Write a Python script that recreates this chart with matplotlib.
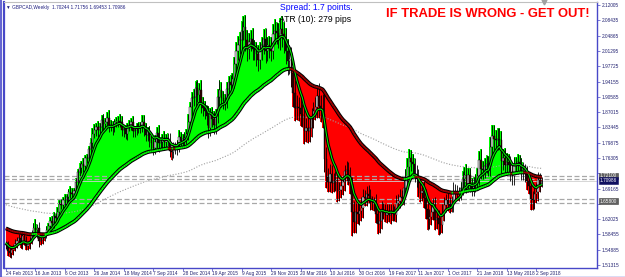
import datetime as dt
import numpy as np
import matplotlib
matplotlib.use("Agg")
import matplotlib.pyplot as plt
from matplotlib.collections import LineCollection
from matplotlib.lines import Line2D
import matplotlib.transforms as mtransforms

# ---------------- data (GBPCAD weekly) ----------------
start_date = dt.date(2013, 2, 24)
first_open = 1.5600

closes = [
    1.5620, 1.5450, 1.5400, 1.5480, 1.5530, 1.5620, 1.5700, 1.5760, 1.5640, 1.5800, 1.5680, 1.5570, 1.5620, 1.5700, 1.5830, 1.6000,
    1.5950, 1.5990, 1.5700, 1.5720, 1.5780, 1.5830, 1.5960, 1.6050, 1.6150, 1.6110, 1.6280, 1.6220, 1.6380, 1.6560, 1.6530, 1.6650,
    1.6640, 1.6710, 1.6830, 1.6810, 1.6780, 1.6860, 1.7080, 1.7300, 1.7400, 1.7480, 1.7450, 1.7620, 1.7620, 1.7830, 1.7980, 1.8200,
    1.8280, 1.8360, 1.8280, 1.8360, 1.8510, 1.8430, 1.8460, 1.8560, 1.8400, 1.8400, 1.8350, 1.8460, 1.8490, 1.8500, 1.8470, 1.8290,
    1.8300, 1.8200, 1.8370, 1.8400, 1.8460, 1.8260, 1.8280, 1.8360, 1.8340, 1.8350, 1.8480, 1.8320, 1.8170, 1.8240, 1.8050, 1.7980,
    1.7870, 1.8010, 1.8210, 1.7970, 1.8000, 1.8100, 1.8000, 1.8090, 1.8050, 1.7800, 1.7760, 1.7890, 1.7850, 1.7930, 1.8130, 1.8020,
    1.8080, 1.8100, 1.8200, 1.8480, 1.8810, 1.9020, 1.9050, 1.9270, 1.9090, 1.9210, 1.8890, 1.8800, 1.8720, 1.8620, 1.8320, 1.8640,
    1.8550, 1.8410, 1.8620, 1.9050, 1.9210, 1.9030, 1.8960, 1.8960, 1.9230, 1.9400, 1.9340, 1.9470, 1.9820, 2.0120, 2.0270, 2.0380,
    2.0600, 2.0700, 2.0390, 2.0180, 2.0340, 2.0400, 2.0180, 2.0140, 2.0050, 1.9920, 2.0150, 2.0260, 2.0410, 2.0130, 2.0260, 2.0210,
    2.0140, 2.0520, 2.0600, 2.0560, 2.0440, 2.0650, 2.0520, 2.0400, 2.0120, 1.9890, 1.9940, 1.9620, 1.9150, 1.8800, 1.8810, 1.8800,
    1.8650, 1.8620, 1.8250, 1.8330, 1.8250, 1.8340, 1.8560, 1.8720, 1.8820, 1.9080, 1.8850, 1.8780, 1.8650, 1.7600, 1.7180, 1.7080,
    1.7250, 1.7040, 1.7100, 1.7120, 1.6850, 1.6890, 1.6970, 1.7060, 1.7320, 1.7350, 1.7210, 1.7020, 1.6380, 1.6130, 1.6370, 1.6320,
    1.6390, 1.6460, 1.6710, 1.6700, 1.6780, 1.6740, 1.6600, 1.6590, 1.6560, 1.6330, 1.6090, 1.6170, 1.6430, 1.6390, 1.6300, 1.6380,
    1.6290, 1.6400, 1.6340, 1.6310, 1.6590, 1.6620, 1.6730, 1.6700, 1.6920, 1.7170, 1.7410, 1.7620, 1.7540, 1.7480, 1.7250, 1.7150,
    1.6930, 1.6810, 1.6850, 1.6690, 1.6440, 1.6200, 1.6260, 1.6370, 1.6490, 1.6180, 1.6240, 1.6080, 1.6070, 1.6350, 1.6540, 1.6640,
    1.6550, 1.6520, 1.6550, 1.6860, 1.6820, 1.6800, 1.6810, 1.6920, 1.7150, 1.7240, 1.7020, 1.7230, 1.7020, 1.6910, 1.7020, 1.7070,
    1.7210, 1.7580, 1.7380, 1.7350, 1.7450, 1.7490, 1.7400, 1.7880, 1.8150, 1.8070, 1.8060, 1.8080, 1.8050, 1.7550, 1.7640, 1.7470,
    1.7540, 1.7460, 1.7320, 1.7200, 1.7440, 1.7460, 1.7530, 1.7470, 1.7320, 1.7340, 1.7260, 1.7090, 1.6980, 1.6670, 1.6640, 1.6780,
    1.6840, 1.7120, 1.7024, 1.7099,
]

up_wick_pips = [
    80, 60, 110, 90, 70, 120, 80, 100, 150, 60, 90, 130, 70, 80, 120, 110,
    200, 90, 150, 80, 70, 60, 90, 70, 110, 130, 80, 60, 100, 90, 120, 80,
    130, 90, 70, 150, 110, 60, 80, 70, 120, 90, 140, 80, 100, 90, 110, 120,
    150, 90, 130, 80, 120, 150, 100, 140, 180, 110, 90, 80, 100, 120, 150, 130,
    90, 110, 80, 120, 110, 140, 90, 80, 100, 110, 150, 160, 120, 110, 130, 90,
    110, 150, 140, 180, 120, 90, 150, 100, 120, 170, 90, 110, 120, 130, 150, 110,
    120, 140, 110, 180, 130, 160, 200, 150, 190, 170, 230, 160, 150, 140, 220, 160,
    170, 180, 150, 190, 250, 200, 160, 170, 180, 150, 160, 140, 180, 230, 200, 190,
    240, 250, 260, 230, 200, 230, 260, 210, 190, 220, 200, 190, 230, 250, 200, 220,
    240, 230, 280, 210, 220, 250, 300, 280, 260, 300, 320, 290, 260, 300, 280, 250,
    260, 240, 270, 230, 260, 250, 240, 210, 230, 260, 300, 250, 350, 500, 280, 220,
    250, 210, 180, 200, 220, 190, 170, 160, 150, 220, 180, 200, 170, 250, 220, 230,
    200, 260, 200, 180, 190, 210, 160, 140, 130, 220, 180, 200, 190, 150, 160, 170,
    180, 150, 160, 170, 180, 160, 170, 150, 190, 200, 210, 230, 200, 190, 160, 210,
    230, 250, 200, 240, 210, 200, 180, 160, 200, 240, 190, 180, 170, 200, 180, 150,
    170, 180, 190, 200, 160, 170, 150, 140, 180, 190, 240, 160, 170, 140, 160, 180,
    180, 220, 260, 190, 170, 200, 180, 230, 260, 240, 220, 250, 260, 210, 200, 230,
    200, 190, 220, 180, 210, 190, 200, 180, 170, 190, 160, 180, 150, 170, 200, 190,
    200, 180, 170, 77,
]

down_wick_pips = [
    90, 120, 80, 100, 110, 70, 90, 80, 120, 140, 90, 100, 80, 110, 90, 100,
    120, 180, 150, 110, 90, 80, 70, 100, 90, 80, 120, 100, 90, 130, 100, 80,
    110, 100, 140, 120, 90, 110, 100, 80, 100, 120, 150, 90, 110, 80, 100, 120,
    110, 130, 150, 120, 100, 140, 130, 120, 160, 150, 180, 120, 110, 140, 120, 150,
    160, 130, 140, 110, 120, 150, 140, 110, 120, 130, 120, 170, 150, 140, 160, 130,
    180, 140, 150, 200, 160, 150, 140, 160, 130, 150, 170, 140, 120, 160, 150, 140,
    130, 170, 150, 160, 180, 190, 170, 200, 160, 220, 210, 180, 190, 220, 230, 170,
    200, 230, 210, 180, 190, 220, 180, 200, 170, 210, 180, 190, 200, 180, 190, 210,
    230, 220, 250, 280, 240, 220, 250, 230, 260, 250, 220, 240, 210, 280, 230, 250,
    240, 200, 230, 260, 250, 280, 300, 320, 290, 330, 310, 340, 320, 300, 280, 300,
    270, 260, 300, 250, 270, 240, 220, 230, 210, 250, 280, 300, 320, 300, 260, 250,
    240, 230, 210, 230, 240, 220, 200, 210, 190, 230, 220, 240, 580, 260, 240, 230,
    250, 220, 230, 180, 200, 170, 190, 180, 160, 210, 240, 220, 200, 190, 170, 180,
    160, 190, 170, 150, 180, 170, 160, 150, 170, 160, 190, 200, 210, 190, 180, 200,
    220, 210, 190, 230, 240, 260, 220, 200, 190, 230, 210, 240, 220, 180, 190, 170,
    160, 180, 150, 170, 200, 160, 170, 150, 160, 170, 200, 190, 180, 160, 170, 180,
    170, 200, 230, 210, 180, 170, 190, 200, 230, 250, 220, 240, 220, 260, 200, 230,
    210, 200, 230, 210, 190, 180, 200, 190, 200, 210, 180, 200, 190, 250, 230, 210,
    200, 220, 190, 79,
]

last_bar_ohlc = (1.70244, 1.71756, 1.69453, 1.70986)
level_lines = [1.7210, 1.7140, 1.6670, 1.6580]
level_labels = [(1.7210, "1.72100"), (1.6625, "1.65800")]
price_ticks_start, price_tick_step, n_price_ticks = 1.51315, 0.0357, 18
fast_period, slow_period, long_period = 8, 55, 160
fast_seed, slow_seed, long_seed = 1.5650, 1.6000, 1.6550
shift_marker_bar = 292

# ---------------- derived ----------------
c = np.array(closes)
n = len(c)
o = np.concatenate([[first_open], c[:-1]])
h = np.maximum(o, c) + np.array(up_wick_pips) / 10000.0
l = np.minimum(o, c) - np.array(down_wick_pips) / 10000.0
o[-1], h[-1], l[-1], c[-1] = last_bar_ohlc
idx = np.arange(n)


def ema(vals, period, seed):
    a = 2.0 / (period + 1)
    out, prev = [], seed
    for v in vals:
        prev = prev + a * (v - prev)
        out.append(prev)
    return np.array(out)


fast = ema(c, fast_period, fast_seed)
slow = ema(c, slow_period, slow_seed)
longma = ema(c, long_period, long_seed)

# ---------------- figure ----------------
W, H = 625, 277
fig = plt.figure(figsize=(W / 100, H / 100), dpi=100)
fig.patch.set_facecolor("white")
ax = fig.add_axes([4 / W, 9 / H, 593 / W, 266 / H])
ax.set_facecolor("white")

ymin, ymax = 1.5061, 2.1273
ax.set_ylim(ymin, ymax)
ax.set_xlim(-1, 321)

above = c >= slow
ax.fill_between(idx, slow, h, where=above, step="mid", color="#00FF00", lw=0, zorder=1)
ax.fill_between(idx, slow, l, where=~above, step="mid", color="#FF0000", lw=0, zorder=1)

# long dotted MA
ax.plot(idx, longma, color="#A0A0A0", lw=0.8, ls=(0, (1, 1.5)), zorder=2)

# level lines
for lv in level_lines:
    ax.axhline(lv, color="#A8A8A8", lw=0.9, ls=(0, (4, 2)), zorder=2)
ax.axhline(c[-1], color="#D0D0D0", lw=0.6, zorder=2)

# candles
ax.vlines(idx, l, h, color="black", lw=0.6, zorder=3)
bull = c >= o
ax.bar(idx[bull], (c - o)[bull], bottom=o[bull], width=0.7, color="#D8D8D8",
       edgecolor="black", lw=0.3, zorder=4)
ax.bar(idx[~bull], (o - c)[~bull], bottom=c[~bull], width=0.7, color="#300000",
       edgecolor="black", lw=0.3, zorder=4)

# MA lines with black outline
ax.plot(idx, fast, color="black", lw=2.2, zorder=5, solid_capstyle="butt")
ax.plot(idx, fast, color="#00FF00", lw=0.7, zorder=6)
ax.plot(idx, slow, color="black", lw=2.8, zorder=5, solid_capstyle="butt")
pts = np.column_stack([idx, slow])
segs = np.stack([pts[:-1], pts[1:]], axis=1)
seg_cols = ["#00FF00" if a else "#A00000" for a in above[1:]]
ax.add_collection(LineCollection(segs, colors=seg_cols, linewidths=1.3, zorder=6))

# chart-shift marker at the top
ax.plot([shift_marker_bar], [ymax], marker="v", ms=3.5, color="#A0A0A0",
        clip_on=False, zorder=7, transform=ax.transData)

# axes styling
for s in ["left", "bottom", "right"]:
    ax.spines[s].set_color("#4848C8")
ax.spines["left"].set_linewidth(1.6)
ax.spines["right"].set_linewidth(1.0)
ax.spines["bottom"].set_linewidth(1.0)
ax.spines["top"].set_color("#C0C0C0")
ax.spines["top"].set_linewidth(0.8)

TICKFONT = ["Liberation Sans", "DejaVu Sans"]
yt = [price_ticks_start + k * price_tick_step for k in range(n_price_ticks)]
covered = set()
for val, _ in level_labels + [(c[-1], "")]:
    k = int(np.argmin([abs(v - val) for v in yt]))
    if abs(yt[k] - val) < 0.0125:
        covered.add(k)
ax.yaxis.tick_right()
ax.set_yticks(yt)
ax.set_yticklabels(["" if k in covered else f"{v:.5f}" for k, v in enumerate(yt)],
                   family=TICKFONT)
ax.tick_params(axis="y", labelsize=3.4, colors="#4848C8", labelcolor="#202070",
               length=2, width=0.5, pad=1.5)

xt = list(range(0, n, 16))
ax.set_xticks(xt)
ax.set_xticklabels([(start_date + dt.timedelta(weeks=i)).strftime("%d %b %Y").lstrip("0")
                    for i in xt], ha="left", family=TICKFONT)
ax.tick_params(axis="x", labelsize=3.4, colors="#4848C8", labelcolor="#202070",
               length=2, width=0.5, pad=0.5)

# price boxes on the right axis
trans = mtransforms.blended_transform_factory(ax.transAxes, ax.transData)
for val, txt in level_labels:
    ax.text(1.005, val, txt, transform=trans, fontsize=3.4, color="white", va="center",
            ha="left", family=TICKFONT,
            bbox=dict(boxstyle="square,pad=0.2", fc="#606060", ec="#404040", lw=0.4),
            zorder=10, clip_on=False)
ax.text(1.005, c[-1], f"{c[-1]:.5f}", transform=trans, fontsize=3.4, color="white",
        va="center", ha="left", family=TICKFONT,
        bbox=dict(boxstyle="square,pad=0.2", fc="#101060", ec="#101060", lw=0.4),
        zorder=10, clip_on=False)

# texts
def fx(px):
    return px / W


def fy(py):
    return 1 - py / H


fig.text(fx(6), fy(7), "\u25BC GBPCAD,Weekly  %.5f %.5f %.5f %.5f" % last_bar_ohlc,
         fontsize=3.4, color="#202080", va="center", ha="left", family=TICKFONT)
fig.text(fx(280), fy(8), "Spread: 1.7 points.", fontsize=6.2, color="#0000FF",
         va="center", ha="left", family="Liberation Sans", zorder=20)
fig.text(fx(279), fy(20), "ATR (10): 279 pips", fontsize=6.2, color="black",
         va="center", ha="left", family="Liberation Sans", zorder=20)
fig.text(fx(386), fy(14), "IF TRADE IS WRONG - GET OUT!", fontsize=9.4, color="#FF0000",
         fontweight="bold", va="center", ha="left", family="Liberation Sans", zorder=20)

# outer frame lines
fig.add_artist(Line2D([1.5 / W, 1.5 / W], [0, 1], color="#4848C8", lw=1.2))
fig.add_artist(Line2D([0, 1], [1 - 276.5 / H, 1 - 276.5 / H], color="#4848C8", lw=1.0))

fig.savefig("out.png", dpi=100, facecolor="white")
